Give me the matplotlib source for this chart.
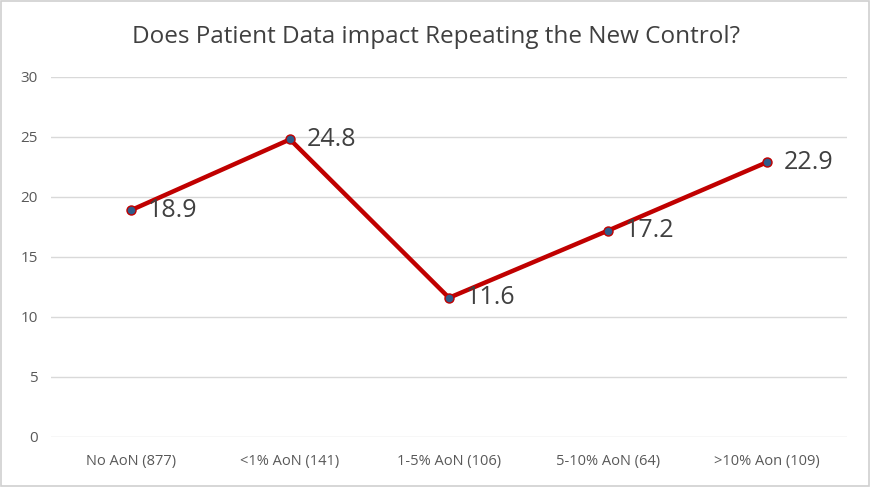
import matplotlib.pyplot as plt
from matplotlib.patches import Rectangle

# data
categories = ["No AoN (877)", "<1% AoN (141)", "1-5% AoN (106)", "5-10% AoN (64)", ">10% Aon (109)"]
values = [18.9, 24.8, 11.6, 17.2, 22.9]
yticks = [0, 5, 10, 15, 20, 25, 30]

plt.rcParams['font.family'] = ['Open Sans', 'DejaVu Sans']

fig = plt.figure(figsize=(8.71, 4.87), dpi=100)
ax = fig.add_axes([0.0591, 0.1027, 0.9128, 0.7392])

x = list(range(len(categories)))
ax.plot(x, values, color="#C00000", linewidth=3.2, marker="o", markersize=6.5,
        markerfacecolor="#2F5C8A", markeredgecolor="#C00000", markeredgewidth=1.0,
        solid_capstyle="round", zorder=3)

for xi, v in zip(x, values):
    ax.annotate(f"{v:.1f}", (xi, v), xytext=(12, 0), textcoords="offset points",
                va="center", ha="left", fontsize=18, color="#404040")

ax.set_xlim(-0.5, len(categories) - 0.5)
ax.set_ylim(0, 30)
ax.set_yticks(yticks)
ax.set_xticks(x)
ax.set_xticklabels(categories)
ax.tick_params(axis="both", length=0, colors="#595959")
ax.tick_params(axis="x", pad=12, labelsize=10.5)
ax.tick_params(axis="y", pad=10, labelsize=11)
ax.grid(axis="y", color="#D9D9D9", linewidth=1.0)
ax.set_axisbelow(True)
for s in ax.spines.values():
    s.set_visible(False)

fig.text(0.5, 0.925, "Does Patient Data impact Repeating the New Control?",
         ha="center", va="center", fontsize=17.5, color="#404040")

fig.patches.append(Rectangle((0.001, 0.002), 0.997, 0.996, transform=fig.transFigure,
                             fill=False, edgecolor="#D0D0D0", linewidth=1.2))

fig.savefig("out.png", dpi=100)
